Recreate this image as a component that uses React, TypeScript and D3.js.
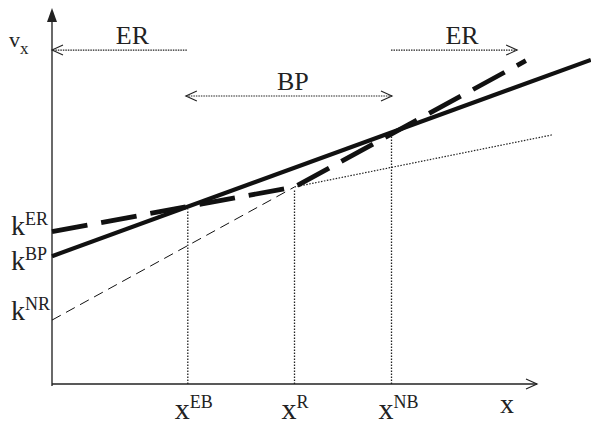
import * as d3 from 'd3';

// regime thresholds on the x axis
const markerKeys = ['EB', 'R', 'NB'];
const markerX = [28, 50, 70];
const markerTop = [47.2, 52.4, 66.9];

// intercept labels on the v axis
const interceptKeys = ['ER', 'BP', 'NR'];
const interceptV = [40.5, 34, 17];

// the schedules
const bpLine: [number, number][] = [[0, 34], [111.1, 86.2]];
const erLine: [number, number][] = [[0, 40.5], [28, 47.2], [50, 52.4], [97.7, 86]];
const nrLine: [number, number][] = [[0, 17], [50, 52.4]];
const erExtension: [number, number][] = [[50, 52.4], [103.3, 66.3]];

// regime ranges
const regimeLabels = ['ER', 'BP', 'ER'];
const regimeFrom = [27.8, 27.6, 69.9];
const regimeTo = [0, 70.1, 95.9];
const regimeLevel = [88.8, 76.6, 88.8];
const regimeBoth = [false, true, false];

const W = 591;
const H = 425;
const SERIF = '"Liberation Serif", serif';

export default function App() {
  const x = d3.scaleLinear().domain([0, 100]).range([52, 537]);
  const y = d3.scaleLinear().domain([0, 100]).range([384, 8]);
  const line = d3.line<[number, number]>().x(d => x(d[0])).y(d => y(d[1]));

  const chevron = (tx: number, ty: number, dir: number) =>
    `M${tx - dir * 11},${ty - 5}L${tx},${ty}L${tx - dir * 11},${ty + 5}`;

  // nudges so labels sit where the original puts them
  const labelDy = [3, 14, 0];
  const regimeDx = [13, 4, 8];

  return (
    <svg width={W} height={H} style={{ position: 'absolute', left: 0, top: 0, background: '#fff' }}>
      {/* axes */}
      <line x1={x(0)} y1={y(0) + 2} x2={x(0)} y2={y(100) + 6} stroke="#444" strokeWidth={1.6} />
      <path d={`M${x(0)},${y(100)}L${x(0) - 5},${y(100) + 14}L${x(0) + 5},${y(100) + 14}Z`} fill="#222" />
      <line x1={x(0)} y1={y(0)} x2={x(100)} y2={y(0)} stroke="#222" strokeWidth={1.5} />
      <path d={chevron(x(100), y(0), 1)} fill="none" stroke="#222" strokeWidth={1.2} />

      {/* vertical guides */}
      {markerX.map((m, i) => (
        <line key={i} x1={x(m)} x2={x(m)} y1={y(0)} y2={y(markerTop[i]) + 3}
          stroke="#222" strokeWidth={1.3} strokeDasharray="1.5 1.5" />
      ))}

      {/* schedules */}
      <path d={line(erExtension) ?? ''} fill="none" stroke="#222" strokeWidth={1.2} strokeDasharray="1.5 1.5" />
      <path d={line(nrLine) ?? ''} fill="none" stroke="#111" strokeWidth={1} strokeDasharray="10 6" />
      <path d={line(bpLine) ?? ''} fill="none" stroke="#111" strokeWidth={4.2} />
      <path d={line(erLine) ?? ''} fill="none" stroke="#111" strokeWidth={4.8} strokeDasharray="36 14" />

      {/* regime arrows */}
      {regimeLabels.map((lab, i) => {
        const x0 = x(regimeFrom[i]);
        const x1 = x(regimeTo[i]);
        const yy = y(regimeLevel[i]);
        const dir = x1 > x0 ? 1 : -1;
        return (
          <g key={i}>
            <line x1={x0} x2={x1} y1={yy} y2={yy} stroke="#222" strokeWidth={1.2} strokeDasharray="1.5 1" />
            <path d={chevron(x1, yy, dir)} fill="none" stroke="#222" strokeWidth={1.1} />
            {regimeBoth[i] && <path d={chevron(x0, yy, -dir)} fill="none" stroke="#222" strokeWidth={1.1} />}
            <text x={(x0 + x1) / 2 + regimeDx[i]} y={yy - 6} textAnchor="middle"
              fontSize={26} fill="#222" style={{ fontFamily: SERIF }}>{lab}</text>
          </g>
        );
      })}

      {/* v axis label */}
      <text x={9} y={47} fontSize={22} fill="#222" style={{ fontFamily: SERIF }}>
        v<tspan fontSize={17} dy={7}>x</tspan>
      </text>

      {/* intercept labels */}
      {interceptKeys.map((k, i) => (
        <text key={k} x={11} y={y(interceptV[i]) + labelDy[i]} fontSize={28} fill="#222"
          style={{ fontFamily: SERIF }}>
          k<tspan fontSize={18} dy={-10}>{k}</tspan>
        </text>
      ))}

      {/* x tick labels */}
      {markerKeys.map((k, i) => (
        <text key={k} x={x(markerX[i]) - 13} y={419} fontSize={30} fill="#222"
          style={{ fontFamily: SERIF }}>
          x<tspan fontSize={18} dy={-11}>{k}</tspan>
        </text>
      ))}
      <text x={500} y={413} fontSize={28} fill="#222" style={{ fontFamily: SERIF }}>x</text>
    </svg>
  );
}
